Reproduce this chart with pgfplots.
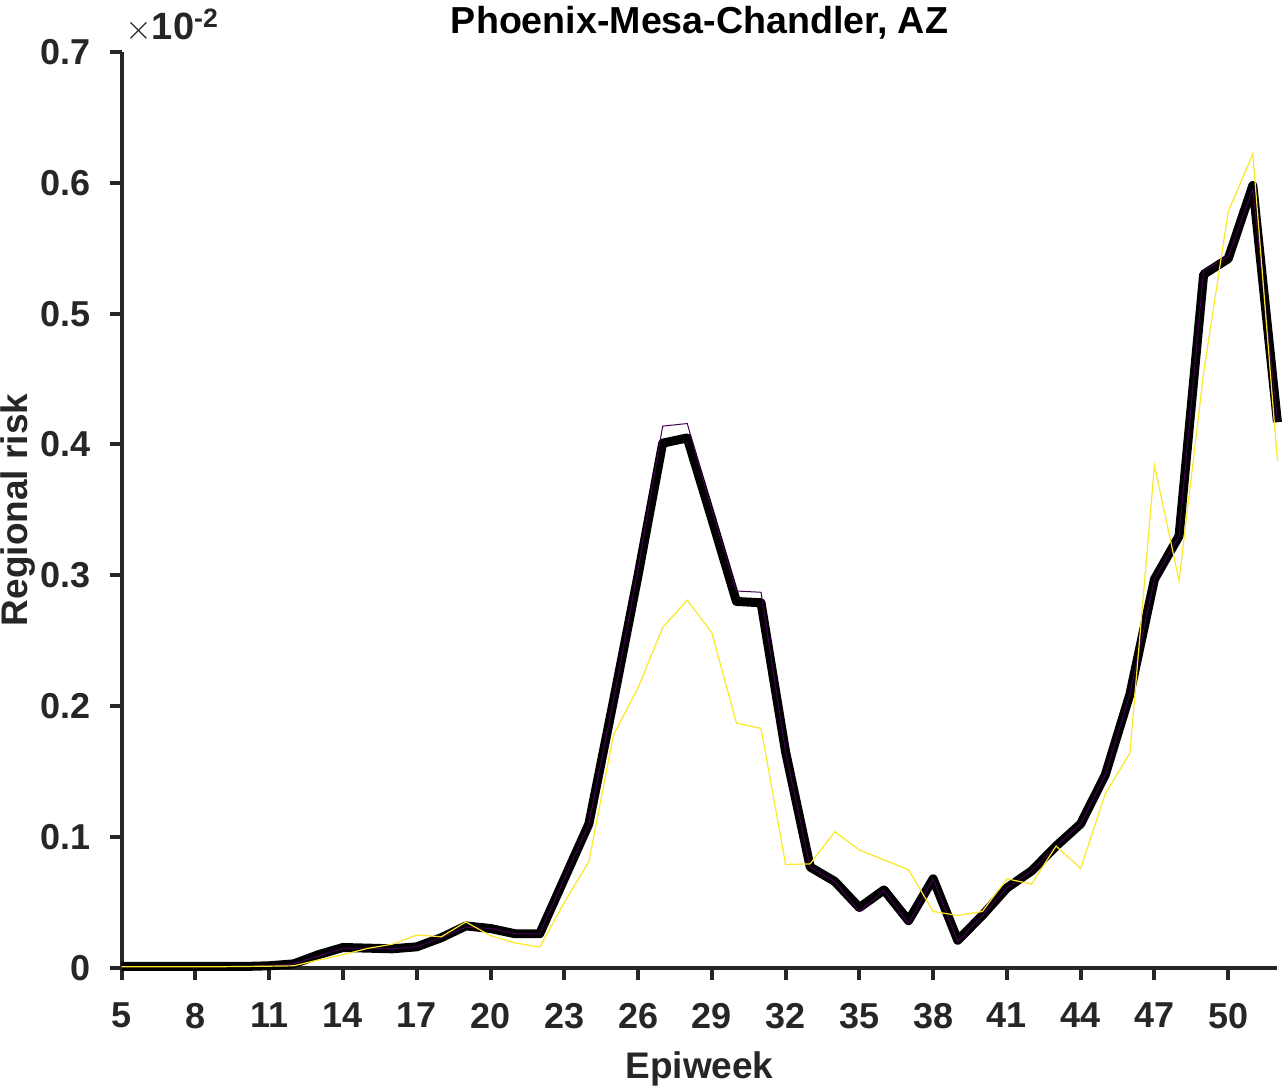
\documentclass[border=0pt]{standalone}
\usepackage{pgfplots}
\pgfplotsset{compat=1.18}
\usepackage{fontspec}
\setmainfont{Liberation Sans}
\definecolor{axgray}{HTML}{262626}
\definecolor{vpurple}{HTML}{440154}
\definecolor{vyellow}{HTML}{FDE725}

% weekly regional risk (x 1e-2)
\pgfplotstableread{
w    fit     obs
5    0.001   0.0008
6    0.001   0.0008
7    0.001   0.0008
8    0.001   0.0008
9    0.001   0.0008
10   0.001   0.0010
11   0.0015  0.0012
12   0.003   0.0015
13   0.010   0.006
14   0.0155  0.010
15   0.015   0.0148
16   0.0145  0.018
17   0.016   0.025
18   0.023   0.0237
19   0.032   0.035
20   0.030   0.0245
21   0.026   0.019
22   0.026   0.0158
23   0.068   0.050
24   0.110   0.081
25   0.204   0.178
26   0.300   0.214
27   0.401   0.260
28   0.405   0.281
29   0.343   0.256
30   0.280   0.187
31   0.279   0.183
32   0.165   0.079
33   0.077   0.0794
34   0.066   0.104
35   0.046   0.090
36   0.0595  0.0825
37   0.036   0.075
38   0.068   0.043
39   0.021   0.040
40   0.040   0.043
41   0.061   0.068
42   0.074   0.064
43   0.093   0.093
44   0.110   0.076
45   0.1475  0.133
46   0.209   0.164
47   0.297   0.384
48   0.330   0.296
49   0.530   0.455
50   0.542   0.578
51   0.598   0.622
52   0.417   0.3875
}\risk

\pgfplotstableread{
w    est
5    0.001
6    0.001
7    0.001
8    0.001
9    0.001
10   0.001
11   0.0015
12   0.003
13   0.009
14   0.0148
15   0.015
16   0.0145
17   0.016
18   0.023
19   0.031
20   0.030
21   0.026
22   0.026
23   0.068
24   0.110
25   0.204
26   0.305
27   0.414
28   0.416
29   0.350
30   0.288
31   0.287
32   0.165
33   0.077
34   0.066
35   0.043
36   0.059
37   0.034
38   0.068
39   0.020
40   0.040
41   0.061
42   0.074
43   0.093
44   0.110
45   0.1475
46   0.209
47   0.297
48   0.330
49   0.533
50   0.5436
51   0.595
52   0.418
}\riskb

\begin{document}
\fontsize{18}{21}\selectfont\bfseries
\begin{tikzpicture}
\begin{axis}[
    name=main,
    scale only axis,
    width=578pt, height=458pt,
    xmin=5, xmax=52, ymin=0, ymax=0.7,
    axis lines*=left,
    axis line style={axgray, line width=2pt},
    every tick/.style={axgray, line width=2pt},
    tick align=outside,
    major tick length=6pt,
    xtick={5,8,...,50},
    ytick={0,0.1,...,0.7},
    yticklabel style={/pgf/number format/fixed, /pgf/number format/precision=1},
    scaled y ticks=false,
    /pgf/number format/assume math mode=true,
    ticklabel style={font=\fontsize{18}{21}\selectfont\bfseries, text=axgray},
    xticklabel style={yshift=-5.5pt},
    yticklabel style={xshift=-3.5pt},
    xlabel={Epiweek},
    ylabel={Regional risk},
    label style={font=\fontsize{18.5}{22}\selectfont\bfseries, text=axgray},
    xlabel style={yshift=0.5pt},
    ylabel style={yshift=-9.5pt},
    title={Phoenix-Mesa-Chandler, AZ},
    title style={font=\fontsize{18.8}{22}\selectfont\bfseries, yshift=-6pt},
    clip=false,
]
\addplot[black, line width=4.5pt, line join=round] table[x=w, y=fit] {\risk};
\addplot[vpurple, line width=0.5pt] table[x=w, y=est] {\riskb};
\addplot[vyellow, line width=0.6pt] table[x=w, y=obs] {\risk};
\end{axis}
\node[anchor=base west, inner sep=0pt, text=axgray, font=\fontsize{19}{22}\selectfont\bfseries] at ([xshift=1.5pt, yshift=6pt]main.north west) {$\times$10\textsuperscript{-2}};
\pgfresetboundingbox
\path[use as bounding box] ([xshift=-60.85pt, yshift=-60pt]main.south west) rectangle ([xshift=5.3pt, yshift=26pt]main.north east);
\end{tikzpicture}
\end{document}
